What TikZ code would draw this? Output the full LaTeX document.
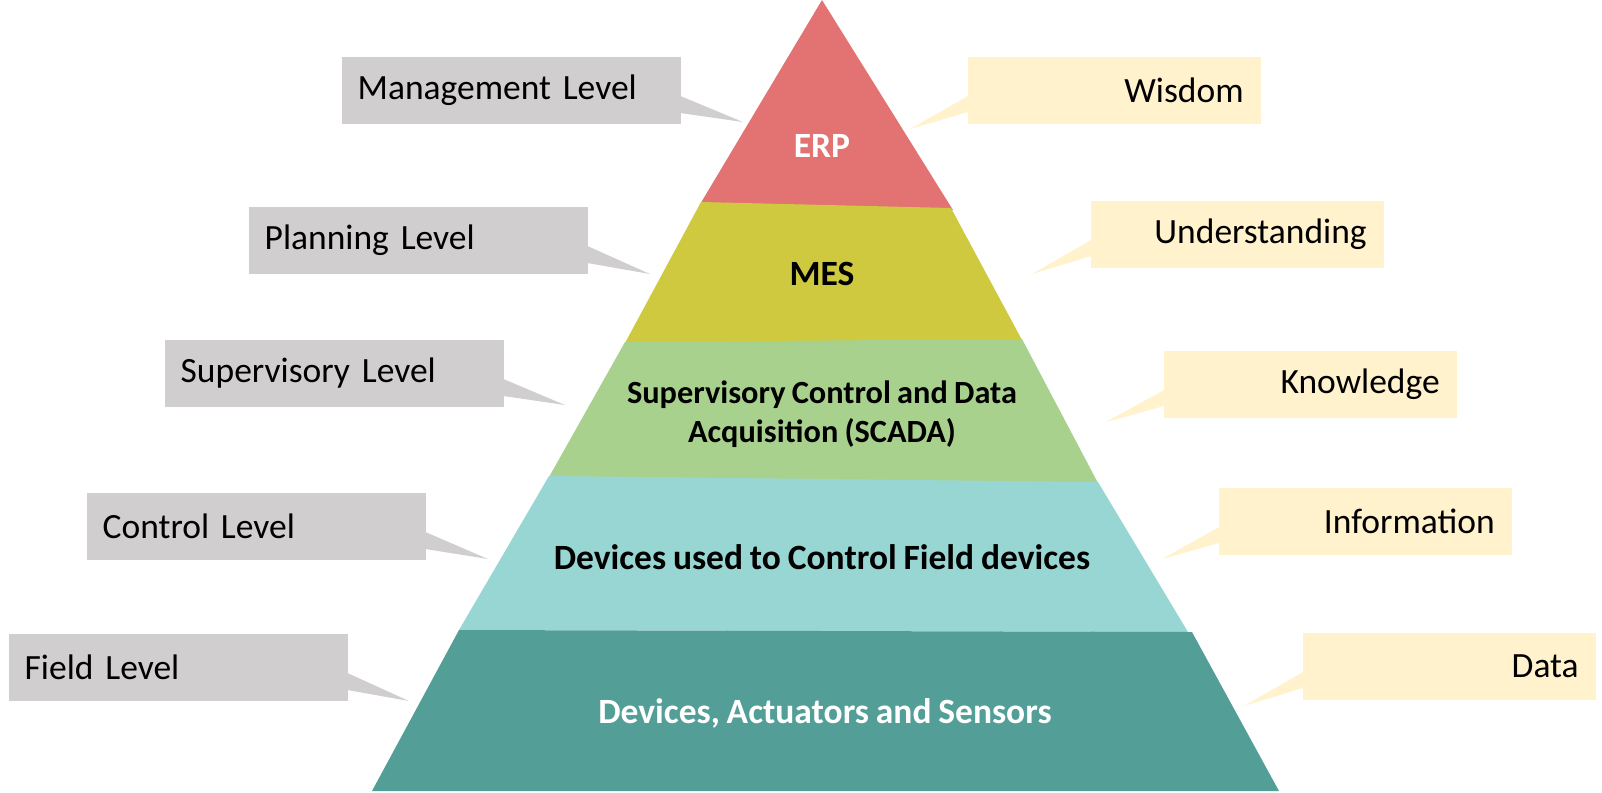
\documentclass[tikz,border=0pt]{standalone}
\usepackage{fontspec}
\setmainfont[WordSpace=0.85]{Carlito}
\usepackage{xcolor}
\usepackage{tikz}

\definecolor{erpRed}{RGB}{226,115,114}
\definecolor{mesYellow}{RGB}{207,201,63}
\definecolor{scadaGreen}{RGB}{169,209,142}
\definecolor{ctrlCyan}{RGB}{152,214,211}
\definecolor{fieldTeal}{RGB}{83,159,152}
\definecolor{levelGray}{RGB}{208,206,207}
\definecolor{dikwYellow}{RGB}{255,242,204}

\tikzset{
  levelbox/.style={fill=levelGray, anchor=north west, inner xsep=1.6mm, inner ysep=0pt,
    text width=30.7mm, minimum height=6.7mm, align=left,
    font=\fontsize{10.1}{12.1}\selectfont},
  dikwbox/.style={fill=dikwYellow, anchor=north west, inner xsep=1.7mm, inner ysep=0pt,
    text width=25.9mm, minimum height=6.7mm, align=right,
    font=\fontsize{10.1}{12.1}\selectfont},
  layertext/.style={font=\bfseries\fontsize{10.1}{12.1}\selectfont, align=center}
}

\begin{document}
\begin{tikzpicture}[x=0.1mm,y=-0.1mm]
  \useasboundingbox (0,0) rectangle (1602,792);

  % pyramid layers, top to bottom
  \fill[erpRed] (822,0) -- (953,210) -- (699,206) -- cycle;
  \fill[mesYellow] (701,202) -- (951,208) -- (1022,340) -- (625,343) -- cycle;
  \fill[scadaGreen] (625,342) -- (1022,339) -- (1098,483) -- (549,477) -- cycle;
  \fill[ctrlCyan] (549,476) -- (1098,482) -- (1188,632) -- (459,630) -- cycle;
  \fill[fieldTeal] (459,630) -- (1192,632) -- (1279,791) -- (372,791) -- cycle;

  % layer names
  \node[layertext, text=white] (erp) at (822,146) {ERP};
  \node[layertext] (mes) at (822,274) {MES};
  \node[layertext, font=\bfseries\fontsize{9.2}{11.2}\selectfont] (scada) at (822,414)
    {Supervisory Control and Data\\Acquisition (SCADA)};
  \node[layertext] (ctrl) at (822,557) {Devices used to Control Field devices};
  \node[layertext, text=white] (field) at (825,713) {Devices, Actuators and Sensors};

  % levels on the left
  \foreach \nodeName/\x/\y/\tipX/\tipY/\nodeLabel in {
    mgmt/341/56/743/122/Management Level,
    plan/248/206/650/274/Planning Level,
    superv/164/339/565/405/Supervisory Level,
    contr/86/492/488/559/Control Level,
    fieldlv/8/633/409/701/Field Level}
  {
    \coordinate (\nodeName tip) at (\tipX,\tipY);
    \node[levelbox] (\nodeName) at (\x,\y) {\nodeLabel};
    \fill[levelGray] ([xshift=-0.1mm,yshift=-4mm]\nodeName.north east) -- (\nodeName tip)
      -- ([xshift=-0.1mm,yshift=-5.7mm]\nodeName.north east) -- cycle;
  }

  % DIKW on the right
  \foreach \nodeName/\x/\y/\tipX/\tipY/\nodeLabel in {
    wisdom/967/56/910/129/Wisdom,
    underst/1090/200/1032/274/Understanding,
    knowl/1163/350/1106/422/Knowledge,
    inform/1218/487/1162/559/Information,
    data/1302/632/1244/706/Data}
  {
    \coordinate (\nodeName tip) at (\tipX,\tipY);
    \node[dikwbox] (\nodeName) at (\x,\y) {\nodeLabel};
    \fill[dikwYellow] ([xshift=0.1mm,yshift=-4mm]\nodeName.north west) -- (\nodeName tip)
      -- ([xshift=0.1mm,yshift=-5.6mm]\nodeName.north west) -- cycle;
  }
\end{tikzpicture}
\end{document}
